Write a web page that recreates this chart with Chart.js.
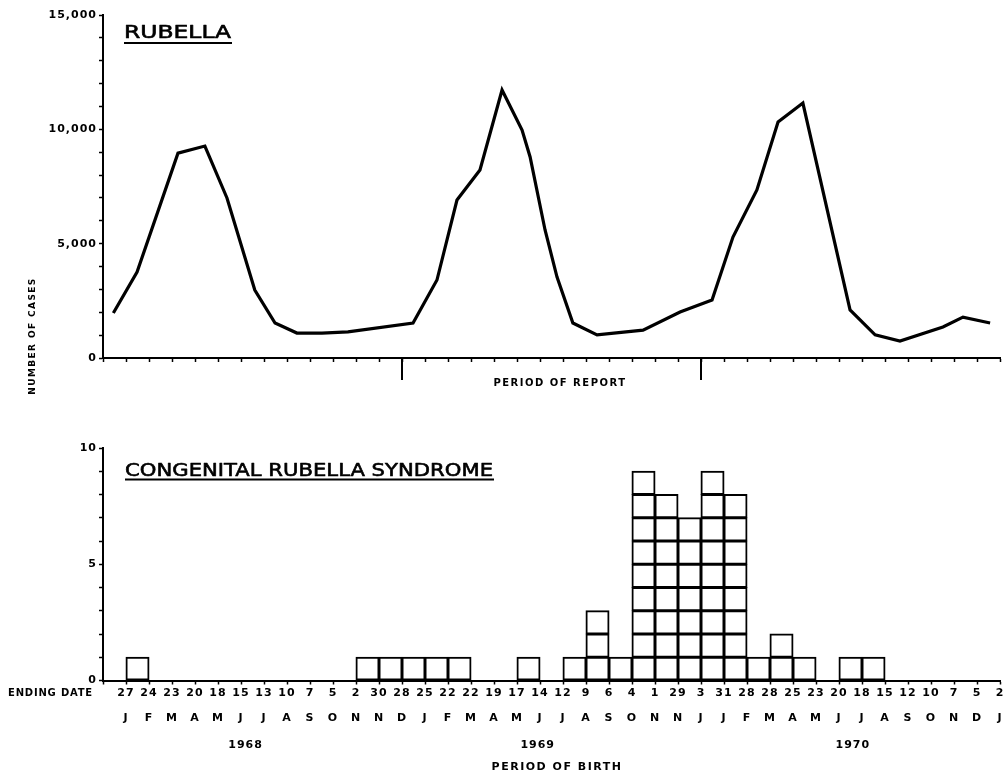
<!DOCTYPE html>
<html><head><meta charset="utf-8">
<script src="https://cdn.jsdelivr.net/npm/chart.js@4/dist/chart.umd.min.js"></script>
<style>
html,body{margin:0;padding:0;background:#fff;}
#wrap{position:relative;width:1007px;height:775px;overflow:hidden;}
.box{position:absolute;left:0;width:1007px;}
</style></head><body>
<div id="wrap">
  <div class="box" style="top:0;height:400px"><canvas id="c1" width="1007" height="400"></canvas></div>
  <div class="box" style="top:400px;height:375px"><canvas id="c2" width="1007" height="375"></canvas></div>
</div>
<script>
// ---- Rubella reports (period position in 4-week report periods, cases) ----
const reportPeriod = [-0.55, 0.48, 2.26, 3.43, 4.39, 5.6, 6.48, 7.43, 8.52, 9.65, 12.48, 13.52, 14.39, 15.39, 16.35, 17.22, 17.57, 18.22, 18.74, 19.43, 20.48, 22.48, 24.09, 25.48, 26.39, 27.43, 28.35, 29.43, 31.48, 32.57, 33.65, 35.52, 36.39, 37.57];
const rubellaCases = [1970, 3760, 8960, 9270, 7000, 2970, 1530, 1090, 1090, 1140, 1530, 3410, 6910, 8220, 11720, 9970, 8790, 5600, 3540, 1530, 1010, 1220, 2010, 2540, 5290, 7350, 10320, 11150, 2100, 1010, 740, 1360, 1790, 1530];
const reportYearBoundaries = [12, 25];

// ---- Congenital rubella syndrome by 4-week period of birth ----
const crsCases = [1,0,0,0,0,0,0,0,0,0, 1,1,1,1,1,0,0,1,0,1, 3,1,9,8,7,9,8,1,2,1, 0,1,1,0,0,0,0,0];
const endingDates = ['27','24','23','20','18','15','13','10','7','5','2','30','28','25','22','22','19','17','14','12','9','6','4','1','29','3','31','28','28','25','23','20','18','15','12','10','7','5','2'];
const monthLetters = ['J','F','M','A','M','J','J','A','S','O','N','N','D','J','F','M','A','M','J','J','A','S','O','N','N','J','J','F','M','A','M','J','J','A','S','O','N','D','J'];
const yearLabels = ['1968','1969','1970'];
const yearLabelPos = [5.2, 17.9, 31.6];

Chart.defaults.font.family = "'DejaVu Sans', sans-serif";
Chart.defaults.color = '#000';

const spacingPlugin = {
  id: 'spacing',
  beforeUpdate(chart){ chart.ctx.letterSpacing = '1px'; },
  beforeDraw(chart){ chart.ctx.letterSpacing = '1px'; }
};

function drawStretched(ctx, text, x, y, targetW, font){
  ctx.save();
  ctx.letterSpacing = '0px';
  ctx.font = font;
  const w = ctx.measureText(text).width;
  ctx.translate(x, y);
  ctx.scale(targetW / w, 1);
  ctx.textAlign = 'left';
  ctx.textBaseline = 'alphabetic';
  ctx.fillStyle = '#000';
  ctx.strokeStyle = '#000';
  ctx.lineWidth = 0.6;
  ctx.lineJoin = 'round';
  ctx.fillText(text, 0, 0);
  ctx.strokeText(text, 0, 0);
  ctx.restore();
}
function drawText(ctx, text, x, y, font, spacing, align){
  ctx.save();
  ctx.letterSpacing = spacing;
  ctx.font = font;
  ctx.textAlign = align || 'center';
  ctx.textBaseline = 'middle';
  ctx.fillStyle = '#000';
  ctx.fillText(text, x, y);
  ctx.restore();
}

const fmt = v => String(v).replace(/\B(?=(\d{3})+(?!\d))/g, ',');

const topDecor = {
  id: 'topDecor',
  afterDraw(chart){
    const ctx = chart.ctx, xs = chart.scales.x, a = chart.chartArea;
    drawStretched(ctx, 'RUBELLA', 124, 37.5, 107, "17px 'DejaVu Sans'");
    ctx.fillStyle = '#000';
    ctx.fillRect(124, 42, 108, 2);
    reportYearBoundaries.forEach(b => {
      const px = xs.getPixelForValue(b);
      ctx.fillRect(px - 1, a.bottom, 2, 22);
    });
    drawText(ctx, 'PERIOD OF REPORT', 560, 383, "bold 10px 'DejaVu Sans'", '1.5px');
    ctx.save();
    ctx.translate(33, 336);
    ctx.rotate(-Math.PI / 2);
    drawText(ctx, 'NUMBER OF CASES', 0, 0, "bold 9px 'DejaVu Sans'", '1.4px');
    ctx.restore();
  }
};

const bottomDecor = {
  id: 'bottomDecor',
  afterDraw(chart){
    const ctx = chart.ctx, xs = chart.scales.x;
    drawStretched(ctx, 'CONGENITAL RUBELLA SYNDROME', 125, 75.5, 368, "18px 'DejaVu Sans'");
    ctx.fillStyle = '#000';
    ctx.fillRect(125, 78.5, 369, 2);
    drawText(ctx, 'ENDING DATE', 8, 293, "bold 10px 'DejaVu Sans'", '0.8px', 'left');
    yearLabels.forEach((y, i) => {
      drawText(ctx, y, xs.getPixelForValue(yearLabelPos[i]), 345, "bold 11px 'DejaVu Sans'", '1px');
    });
    drawText(ctx, 'PERIOD OF BIRTH', 557, 367, "bold 11px 'DejaVu Sans'", '1.5px');
  }
};

const axisLine = {color:'#000', width:2};
const tickGrid = {drawOnChartArea:false, tickLength:4, tickColor:'#000', tickWidth:1.5, offset:false};

new Chart(document.getElementById('c1'), {
  type: 'line',
  data: { datasets: [{
    data: reportPeriod.map((x, i) => ({x, y: rubellaCases[i]})),
    borderColor: '#000', borderWidth: 3.2, pointRadius: 0, tension: 0,
    borderJoinStyle: 'miter', fill: false
  }]},
  options: {
    responsive: false, animation: false, devicePixelRatio: 1,
    layout: {padding: {left: 0, right: 7, top: 15, bottom: 0}},
    plugins: {legend: {display: false}, tooltip: {enabled: false}},
    scales: {
      x: {type: 'linear', min: -1, max: 38, afterFit(s){ s.height = 42; },
          ticks: {stepSize: 1, maxTicksLimit: 1000, autoSkip: false, maxRotation: 0, callback: () => ''},
          grid: tickGrid, border: axisLine},
      y: {type: 'linear', min: 0, max: 15000, afterFit(s){ s.width = 103; },
          ticks: {stepSize: 1000, maxTicksLimit: 1000, autoSkip: false, padding: 2,
                  font: {size: 11, weight: 'bold'},
                  callback: v => (v % 5000 === 0 ? fmt(v) : '')},
          grid: tickGrid, border: axisLine}
    }
  },
  plugins: [spacingPlugin, topDecor]
});

const maxCount = Math.max(...crsCases);
const crsDatasets = [];
for (let k = 1; k <= maxCount; k++) {
  const pts = [];
  crsCases.forEach((c, i) => { if (c >= k) pts.push({x: i + 0.5, y: 1}); });
  crsDatasets.push({
    data: pts, backgroundColor: 'rgba(255,255,255,0)', borderColor: '#000',
    borderWidth: 1, inflateAmount: 0.5, borderSkipped: false,
    barPercentage: 1, categoryPercentage: 1
  });
}

new Chart(document.getElementById('c2'), {
  type: 'bar',
  data: { datasets: crsDatasets },
  options: {
    responsive: false, animation: false, devicePixelRatio: 1,
    layout: {padding: {left: 0, right: 7, top: 48, bottom: 0}},
    plugins: {legend: {display: false}, tooltip: {enabled: false}},
    scales: {
      x: {type: 'linear', min: -1, max: 38, offset: false, stacked: true,
          afterFit(s){ s.height = 94.5; },
          ticks: {stepSize: 1, maxTicksLimit: 1000, autoSkip: false, maxRotation: 0, minRotation: 0,
                  padding: -4, font: {size: 11, weight: 'bold', lineHeight: '25px'},
                  callback: v => { const i = Math.round(v); return (i >= 0 && i < endingDates.length) ? [endingDates[i], monthLetters[i]] : ''; }},
          grid: tickGrid, border: axisLine},
      y: {type: 'linear', min: 0, max: 10, stacked: true, afterFit(s){ s.width = 103; },
          ticks: {stepSize: 1, autoSkip: false, padding: 2, font: {size: 11, weight: 'bold'},
                  callback: v => (v % 5 === 0 ? String(v) : '')},
          grid: tickGrid, border: axisLine}
    }
  },
  plugins: [spacingPlugin, bottomDecor]
});
</script>
</body></html>
